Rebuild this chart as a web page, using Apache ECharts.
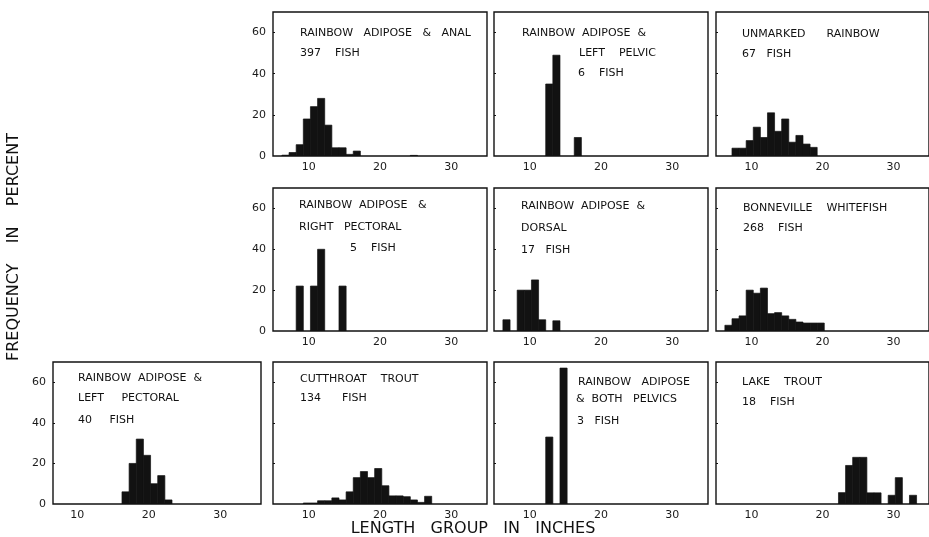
<!DOCTYPE html>
<html><head><meta charset="utf-8">
<script src="https://cdn.jsdelivr.net/npm/echarts@6/dist/echarts.min.js"></script>
<style>html,body{margin:0;padding:0;background:#fff}#c{width:929px;height:537px}</style>
</head><body><div id="c"></div>
<script>
// ---- data: length group (inches, lower bound of 1-inch group) and frequency in percent ----
const groupsAnal = [6, 7, 8, 9, 10, 11, 12, 13, 14, 15, 16, 24];
const pctAnal    = [0.4, 1.7, 5.5, 18, 24, 28, 15, 4, 4, 0.8, 2.4, 0.3];

const groupsLeftPelvic = [12, 13, 16];
const pctLeftPelvic    = [35, 49, 9];

const groupsUnmarked = [7, 8, 9, 10, 11, 12, 13, 14, 15, 16, 17, 18];
const pctUnmarked    = [3.8, 3.8, 7.5, 14, 9, 21, 12, 18, 6.7, 10, 5.8, 4.2];

const groupsRightPectoral = [8, 10, 11, 14];
const pctRightPectoral    = [22, 22, 40, 22];

const groupsDorsal = [6, 8, 9, 10, 11, 13];
const pctDorsal    = [5.5, 20, 20, 25, 5.5, 5];

const groupsWhitefish = [6, 7, 8, 9, 10, 11, 12, 13, 14, 15, 16, 17, 18, 19];
const pctWhitefish    = [2.8, 6, 7.4, 20, 18.5, 21, 8.5, 9, 7.4, 5.7, 4.4, 3.9, 3.9, 3.9];

const groupsLeftPectoral = [16, 17, 18, 19, 20, 21, 22];
const pctLeftPectoral    = [6, 20, 32, 24, 10, 14, 2];

const groupsCutthroat = [9, 10, 11, 12, 13, 14, 15, 16, 17, 18, 19, 20, 21, 22, 23, 24, 25, 26];
const pctCutthroat    = [0.5, 0.5, 1.6, 1.6, 3, 2, 6, 13, 16, 13, 17.5, 9, 4, 4, 3.6, 2, 0.8, 3.8];

const groupsBothPelvics = [12, 14];
const pctBothPelvics    = [33, 67];

const groupsLakeTrout = [22, 23, 24, 25, 26, 27, 29, 30, 32];
const pctLakeTrout    = [5.6, 19, 23, 23, 5.5, 5.5, 4.3, 13, 4.3];

const xTickLabels = [10, 20, 30];
const yTickLabels = [0, 20, 40, 60];

const panelTitles = [
  ['RAINBOW   ADIPOSE   &   ANAL', '397    FISH'],
  ['RAINBOW  ADIPOSE  &', 'LEFT    PELVIC', '6    FISH'],
  ['UNMARKED      RAINBOW', '67   FISH'],
  ['RAINBOW  ADIPOSE   &', 'RIGHT   PECTORAL', '5    FISH'],
  ['RAINBOW  ADIPOSE  &', 'DORSAL', '17   FISH'],
  ['BONNEVILLE    WHITEFISH', '268    FISH'],
  ['RAINBOW  ADIPOSE  &', 'LEFT     PECTORAL', '40     FISH'],
  ['CUTTHROAT    TROUT', '134      FISH'],
  ['RAINBOW   ADIPOSE', '&  BOTH   PELVICS', '3   FISH'],
  ['LAKE    TROUT', '18    FISH']
];
const panelData = [
  [groupsAnal, pctAnal], [groupsLeftPelvic, pctLeftPelvic], [groupsUnmarked, pctUnmarked],
  [groupsRightPectoral, pctRightPectoral], [groupsDorsal, pctDorsal], [groupsWhitefish, pctWhitefish],
  [groupsLeftPectoral, pctLeftPectoral], [groupsCutthroat, pctCutthroat], [groupsBothPelvics, pctBothPelvics],
  [groupsLakeTrout, pctLakeTrout]
];

// ---- layout ----
const panelBoxes = [ // left, top, width, height
  [273, 12, 214, 144], [494, 12, 214, 144], [716, 12, 214, 144],
  [273, 188, 214, 143], [494, 188, 214, 143], [716, 188, 214, 143],
  [53, 362, 208, 142], [273, 362, 214, 142], [494, 362, 214, 142], [716, 362, 214, 142]
];
const xRanges = [[5,35],[5,35],[5,35],[5,35],[5,35],[5,35],[6.6,35.7],[5,35],[5,35],[5,35]];
const showYLabels = [true, false, false, true, false, false, true, false, false, false];
// text position offsets (from panel left/top) for each line
const titleOffsets = [
  [[27, 21], [27, 41]],
  [[28, 21], [85, 41], [84, 61]],
  [[26, 22], [26, 42]],
  [[26, 17], [26, 39], [77, 60]],
  [[27, 18], [27, 40], [27, 62]],
  [[27, 20], [27, 40]],
  [[25, 16], [25, 36], [25, 58]],
  [[27, 17], [27, 36]],
  [[84, 20], [82, 37], [83, 59]],
  [[26, 20], [26, 40]]
];
const BIN_SHIFT = 0.25;
const INK = '#121212';
const FONT = '"DejaVu Sans", sans-serif';

const grids = [], xAxes = [], yAxes = [], series = [], graphics = [];
panelBoxes.forEach((b, i) => {
  grids.push({left: b[0], top: b[1], width: b[2], height: b[3], show: true,
    borderColor: INK, borderWidth: 1.4, backgroundColor: 'transparent'});
  xAxes.push({type: 'value', gridIndex: i, min: xRanges[i][0], max: xRanges[i][1],
    splitLine: {show: false}, axisLine: {show: false}, axisTick: {show: false},
    axisLabel: {customValues: xTickLabels, color: '#1a1a1a', fontSize: 11, fontFamily: FONT, margin: 6}});
  yAxes.push({type: 'value', gridIndex: i, min: 0, max: 70,
    splitLine: {show: false}, axisLine: {show: false},
    axisTick: {show: true, inside: true, length: 2, customValues: [20, 40, 60], lineStyle: {color: INK}},
    axisLabel: {show: showYLabels[i], customValues: yTickLabels, color: '#1a1a1a', fontSize: 11, fontFamily: FONT, margin: 7}});
  const [g, p] = panelData[i];
  series.push({type: 'custom', xAxisIndex: i, yAxisIndex: i, clip: true,
    data: g.map((x, k) => [x, p[k]]),
    renderItem: (params, api) => {
      const x = api.value(0), y = api.value(1);
      const p0 = api.coord([x + BIN_SHIFT, 0]);
      const p1 = api.coord([x + BIN_SHIFT + 1, y]);
      return {type: 'rect', shape: {x: p0[0], y: p1[1], width: p1[0] - p0[0], height: p0[1] - p1[1]},
        style: {fill: INK, stroke: INK, lineWidth: 0.7}};
    }});
  panelTitles[i].forEach((t, k) => {
    const o = titleOffsets[i][k];
    graphics.push({type: 'text', x: b[0] + o[0], y: b[1] + o[1],
      style: {text: t, fill: '#111', font: '11px ' + FONT, textAlign: 'left', textVerticalAlign: 'middle'}});
  });
});
graphics.push({type: 'text', x: 14, y: 247, rotation: Math.PI / 2,
  style: {text: 'FREQUENCY    IN    PERCENT', fill: '#111', font: '16px ' + FONT, textAlign: 'center', textVerticalAlign: 'middle'}});
graphics.push({type: 'text', x: 473, y: 529,
  style: {text: 'LENGTH   GROUP   IN   INCHES', fill: '#111', font: '16px ' + FONT, textAlign: 'center', textVerticalAlign: 'middle'}});

const chart = echarts.init(document.getElementById('c'), null, {renderer: 'canvas'});
chart.setOption({animation: false, backgroundColor: '#fff', grid: grids, xAxis: xAxes, yAxis: yAxes, series: series, graphic: graphics});
</script></body></html>
